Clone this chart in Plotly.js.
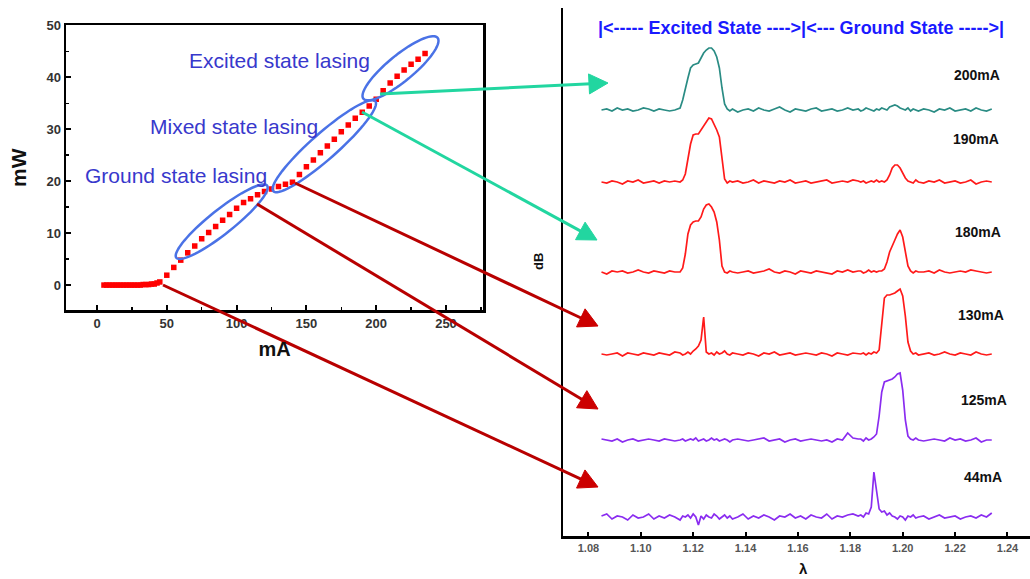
<!DOCTYPE html>
<html>
<head>
<meta charset="utf-8">
<script src="https://cdn.plot.ly/plotly-3.0.1.min.js"></script>
<style>html,body{margin:0;padding:0;background:#fff;}#chart{width:1030px;height:579px;}</style>
</head>
<body>
<div id="chart"></div>
<script>
// ---------- L-I curve (left panel) ----------
const currentMA = [5,7,9,11,13,15,17,19,21,23,25,27,29,31,33,35,37,39,41,43,45,
  50,55,60,65,70,75,80,85,90,95,100,105,110,115,120,125,130,135,140,
  145,150,155,160,165,170,175,180,185,190,195,200,205,210,215,220,225,230,235];
const powerMW = [0,0,0,0,0,0,0,0,0,0,0,0,0,0,0.1,0.1,0.1,0.2,0.2,0.4,0.6,
  1.9,3.4,4.8,6.2,7.5,8.9,10.1,11.3,12.5,13.6,14.8,15.9,16.6,17.4,18.0,18.5,19.0,19.4,19.8,
  21.3,22.8,24.1,25.5,26.8,28.1,29.5,30.8,32.1,33.3,34.5,35.8,37.4,38.9,40.2,41.4,42.5,43.5,44.6];
const xTicksLeft = [0,50,100,150,200,250];
const yTicksLeft = [0,10,20,30,40,50];
const regionLabels = ['Excited state lasing','Mixed state lasing','Ground state lasing'];

// ---------- Spectra (right panel) ----------
const wavelength = [1.085,1.087,1.089,1.091,1.093,1.095,1.097,1.099,1.101,1.103,1.105,1.107,1.109,1.111,1.113,
  1.115,1.116,1.117,1.118,1.119,1.120,1.121,1.122,1.123,1.124,1.125,1.126,1.127,1.128,1.129,1.130,1.131,1.132,1.133,1.134,1.135,
  1.137,1.139,1.141,1.143,1.145,1.147,1.149,1.151,1.153,1.155,1.157,1.159,1.161,1.163,1.165,1.167,1.169,1.171,1.173,1.175,1.177,1.179,1.181,1.183,
  1.184,1.185,1.186,1.187,1.188,1.189,1.190,1.191,1.192,1.193,1.194,1.195,1.196,1.197,1.198,1.199,1.200,1.201,1.202,1.203,1.204,1.205,1.206,
  1.208,1.210,1.212,1.214,1.216,1.218,1.220,1.222,1.224,1.226,1.228,1.230,1.232,1.234];
const spec200 = [0,1,-1,2,0,1,-1,0,2,1,-1,1,0,-1,0,
  2,10,22,32,42,45,46,47,52,57,60,62,62,59,53,42,22,6,1,-1,1,
  -2,0,1,-1,2,0,-1,1,3,0,-2,1,0,-1,1,2,-1,0,1,-1,0,2,0,1,
  -1,0,2,1,0,-1,1,0,2,1,0,3,4,5,4,2,1,0,2,-1,1,0,-1,
  1,0,-2,1,0,2,-1,0,1,-1,2,0,-1,1];
const spec190 = [0,-1,1,0,-2,1,0,2,-1,0,1,-1,1,0,1,
  0,2,8,22,38,47,48,48,52,57,61,64,63,58,52,45,25,3,-1,1,0,
  1,-1,0,2,-1,1,0,-1,1,0,2,-1,0,1,-1,0,1,2,-1,0,1,0,2,1,
  0,1,-1,0,1,0,2,0,1,0,2,7,14,17,17,14,9,4,1,0,-1,2,0,
  -1,1,0,2,-1,0,1,-1,0,2,-2,0,1,0];
const spec180 = [0,-2,1,0,1,-1,0,2,0,-1,1,0,-1,1,0,
  0,4,18,38,47,50,51,51,55,63,67,68,65,60,50,32,6,0,-1,1,0,
  -1,0,1,-1,0,1,3,0,-1,1,0,-2,1,0,-1,1,0,-1,-2,1,0,2,0,1,
  1,-1,0,2,0,1,0,1,1,3,10,20,27,32,38,42,35,20,6,1,-1,1,0,
  0,1,-1,2,0,-1,0,1,0,2,1,0,-1,0];
const spec130 = [0,-1,0,1,-2,1,0,-1,1,0,-1,1,0,-1,2,
  1,-1,0,2,0,3,5,8,14,37,2,0,1,-1,2,0,1,3,0,-1,1,
  0,-1,1,0,-2,1,0,2,-1,0,1,-1,0,1,0,-1,1,0,-2,1,0,-1,1,0,
  0,1,-1,1,0,2,1,4,30,56,59,59,60,61,63,65,58,38,12,3,0,1,-1,
  0,1,-1,0,2,0,-1,1,0,-1,2,0,-1,0];
const spec125 = [1,0,-1,1,-2,0,1,-1,0,1,0,-1,1,0,-1,
  0,1,-1,0,1,0,2,-1,0,1,-1,0,2,0,1,-1,0,1,0,-2,0,
  1,0,-1,0,1,2,-1,0,1,-2,0,1,-1,0,1,0,-1,0,-2,1,0,7,2,1,
  1,-1,2,0,1,3,6,24,48,58,59,60,61,63,66,67,50,20,4,1,0,2,0,
  -1,0,1,0,-1,2,0,1,-1,0,2,-2,0,0];
const spec44 = [1,3,-2,1,0,-3,2,-1,0,3,-2,1,-1,2,0,
  -3,1,0,2,-1,3,0,-8,1,-2,2,0,-1,3,1,-2,0,2,-1,1,-2,
  0,3,-2,1,-1,2,0,-3,1,0,3,-1,1,-2,2,0,-1,3,-2,1,0,2,3,1,
  2,0,4,3,10,45,28,8,5,6,2,4,1,0,-2,1,0,-3,1,0,2,-1,0,
  1,-2,0,2,-1,0,1,-2,0,1,-1,2,0,4];
const spectrumLabels = ['200mA','190mA','180mA','130mA','125mA','44mA'];
const spectrumOffsets = [426,354,264,182,96,19];
const spectrumColors = ['#2a8c84','#ff1a1a','#ff1a1a','#ff1a1a','#8a2cf0','#8a2cf0'];
const spectra = [spec200,spec190,spec180,spec130,spec125,spec44];
const xTicksRight = [1.08,1.10,1.12,1.14,1.16,1.18,1.20,1.22,1.24];
const headerText = '|<----- Excited State ---->|<--- Ground State ----->|';

// ---------- layout helpers (pixel -> paper) ----------
const W = 1030, H = 579;
const px = x => x / W;
const py = y => 1 - y / H;

const traces = [];
traces.push({
  x: currentMA, y: powerMW, xaxis: 'x', yaxis: 'y', type: 'scatter', mode: 'markers',
  marker: {symbol: 'square', size: 5.5, color: '#ff0000', line: {width: 0}},
  hoverinfo: 'skip', showlegend: false
});
spectra.forEach((s, i) => {
  traces.push({
    x: wavelength, y: s.map(v => v + spectrumOffsets[i]), xaxis: 'x2', yaxis: 'y2',
    type: 'scatter', mode: 'lines', line: {color: spectrumColors[i], width: 1.7},
    name: spectrumLabels[i], showlegend: false, hoverinfo: 'skip'
  });
});

// ---------- decorations ----------
const shapes = [];
function ellipse(cx, cy, a, b, deg, color) {
  const t = deg * Math.PI / 180;
  let d = '';
  for (let k = 0; k <= 72; k++) {
    const f = k / 72 * 2 * Math.PI;
    const x = cx + a * Math.cos(f) * Math.cos(t) - b * Math.sin(f) * Math.sin(t);
    const y = cy + a * Math.cos(f) * Math.sin(t) + b * Math.sin(f) * Math.cos(t);
    d += (k === 0 ? 'M' : 'L') + px(x).toFixed(5) + ',' + py(y).toFixed(5);
  }
  d += 'Z';
  shapes.push({type: 'path', xref: 'paper', yref: 'paper', path: d, layer: 'above',
    line: {color: color, width: 2.5}});
}
ellipse(221.7, 221.7, 58, 12, -38.5, '#4a72e6');
ellipse(324.3, 146.2, 68, 13, -41.4, '#4a72e6');
ellipse(400.5, 68.3, 48, 13, -39.4, '#4a72e6');

function arrow(x0, y0, x1, y1, lineColor, headColor) {
  const L = 19, hw = 10;
  const dx = x1 - x0, dy = y1 - y0, len = Math.hypot(dx, dy);
  const ux = dx / len, uy = dy / len;
  const bx = x1 - ux * L, by = y1 - uy * L;
  shapes.push({type: 'line', xref: 'paper', yref: 'paper', x0: px(x0), y0: py(y0),
    x1: px(bx + ux * 2), y1: py(by + uy * 2), layer: 'above', line: {color: lineColor, width: 3}});
  const p1 = [bx - uy * hw, by + ux * hw], p2 = [bx + uy * hw, by - ux * hw];
  shapes.push({type: 'path', xref: 'paper', yref: 'paper', layer: 'above',
    path: 'M' + px(x1) + ',' + py(y1) + 'L' + px(p1[0]) + ',' + py(p1[1]) + 'L' + px(p2[0]) + ',' + py(p2[1]) + 'Z',
    fillcolor: headColor, line: {color: headColor, width: 1}});
}
arrow(380, 94, 608, 83, '#22d6a0', '#22d6a0');
arrow(362, 112, 597, 240, '#22d6a0', '#22d6a0');
arrow(295, 183, 598, 326, '#b80000', '#cc0000');
arrow(257, 204, 598, 409, '#b80000', '#cc0000');
arrow(163, 285, 598, 487, '#b80000', '#cc0000');

const annotations = [];
function txt(text, x, y, size, color, bold, angle) {
  annotations.push({text: text, xref: 'paper', yref: 'paper', x: px(x), y: py(y),
    xanchor: 'center', yanchor: 'middle', showarrow: false, textangle: angle || 0,
    font: {family: 'Arial, Liberation Sans, sans-serif', size: size, color: color, weight: bold ? 'bold' : 'normal'}});
}
txt(regionLabels[0], 279, 60, 21, '#3838cc', false);
txt(regionLabels[1], 234, 127, 21, '#3838cc', false);
txt(regionLabels[2], 176, 175, 21, '#3838cc', false);
txt(headerText, 801, 28, 18, '#1a1aff', true);
const labelPos = [[977,75],[976,139],[978,232],[981,315],[984,400],[983,477]];
spectrumLabels.forEach((l, i) => txt(l, labelPos[i][0], labelPos[i][1], 14, '#111', true));
txt('dB', 538, 262, 13, '#111', true, -90);
txt('\u03bb', 803, 568, 15, '#111', true);

const axFont = {family: 'Arial, Liberation Sans, sans-serif', size: 13, color: '#333', weight: 'bold'};
const layout = {
  width: W, height: H, margin: {l: 0, r: 0, t: 0, b: 0},
  paper_bgcolor: '#fff', plot_bgcolor: 'rgba(0,0,0,0)', showlegend: false,
  font: {family: 'Arial, Liberation Sans, sans-serif'},
  xaxis: {domain: [px(66), px(483)], range: [-22.2, 276.5], anchor: 'y',
    tickvals: xTicksLeft, ticks: 'inside', ticklen: 5, tickwidth: 2, tickcolor: '#000',
    minor: {ticks: 'inside', ticklen: 3, tickwidth: 1.5, dtick: 25, tick0: 25, tickcolor: '#000'},
    showline: true, linewidth: 2.5, linecolor: '#000', mirror: true, showgrid: false, zeroline: false,
    tickfont: axFont,
    title: {text: 'mA', font: {family: 'Arial, Liberation Sans, sans-serif', size: 20, color: '#111', weight: 'bold'}, standoff: 12}},
  yaxis: {domain: [py(310), py(25.4)], range: [-4.8, 50], anchor: 'x',
    tickvals: yTicksLeft, ticks: 'inside', ticklen: 5, tickwidth: 2, tickcolor: '#000',
    minor: {ticks: 'inside', ticklen: 3, tickwidth: 1.5, dtick: 5, tick0: 5, tickcolor: '#000'},
    showline: true, linewidth: 2.5, linecolor: '#000', mirror: true, showgrid: false, zeroline: false,
    tickfont: axFont,
    title: {text: 'mW', font: {family: 'Arial, Liberation Sans, sans-serif', size: 21, color: '#111', weight: 'bold'}, standoff: 14}},
  xaxis2: {domain: [px(563), 1], range: [1.0703, 1.2486], anchor: 'y2',
    tickvals: xTicksRight, tickformat: '.2f', ticks: 'inside', ticklen: 4, tickwidth: 2, tickcolor: '#000',
    showline: true, linewidth: 2.5, linecolor: '#000', showgrid: false, zeroline: false,
    tickfont: {family: 'Arial, Liberation Sans, sans-serif', size: 11, color: '#555', weight: 'bold'}},
  yaxis2: {domain: [py(536), py(8)], range: [0, 528], anchor: 'x2',
    showticklabels: false, ticks: '', showline: true, linewidth: 2.5, linecolor: '#000',
    showgrid: false, zeroline: false},
  shapes: shapes, annotations: annotations
};
Plotly.newPlot('chart', traces, layout, {staticPlot: true, displayModeBar: false});
</script>
</body>
</html>
